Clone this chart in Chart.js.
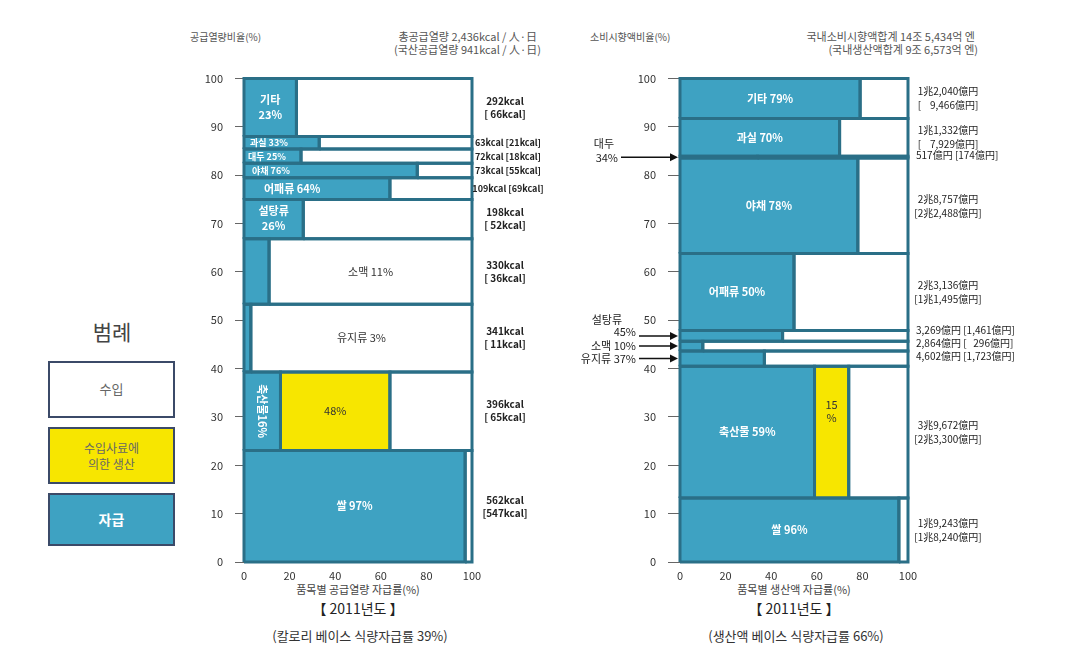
<!DOCTYPE html>
<html><head><meta charset="utf-8">
<script src="https://cdn.jsdelivr.net/npm/chart.js@4.4.0/dist/chart.umd.min.js"></script>
<style>
html,body{margin:0;padding:0;background:#fff;}
body{width:1088px;height:651px;position:relative;overflow:hidden;font-family:"Noto Sans CJK KR","Noto Sans",sans-serif;color:#333;}
.t{position:absolute;white-space:nowrap;line-height:1;}
.c{transform:translateX(-50%);}
canvas{position:absolute;}
.lg{position:absolute;left:48px;width:127px;border:2.5px solid #3b4a68;box-sizing:border-box;display:flex;align-items:center;justify-content:center;text-align:center;line-height:1.3;}
</style></head><body>

<div class="t" style="left:190px;top:32px;font-size:10px;color:#555;">공급열량비율(%)</div>
<div class="t" style="right:551px;top:31px;font-size:11px;color:#555;">총공급열량 2,436kcal / 人·日</div>
<div class="t" style="right:547px;top:44px;font-size:11px;color:#555;">(국산공급열량 941kcal / 人·日)</div>
<div class="t" style="left:590px;top:32px;font-size:10px;color:#555;">소비시향액비율(%)</div>
<div class="t" style="right:113px;top:31px;font-size:11px;color:#555;">국내소비시향액합계 14조 5,434억 엔</div>
<div class="t" style="right:110px;top:44px;font-size:11px;color:#555;">(국내생산액합계 9조 6,573억 엔)</div>

<div class="t c" style="left:358px;top:584px;font-size:11px;color:#444;">품목별 공급열량 자급률(%)</div>
<div class="t c" style="left:358px;top:601px;font-size:14px;color:#222;">【 2011년도 】</div>
<div class="t c" style="left:360px;top:629px;font-size:13px;color:#333;">(칼로리 베이스 식량자급률 39%)</div>
<div class="t c" style="left:794px;top:584px;font-size:11px;color:#444;">품목별 생산액 자급률(%)</div>
<div class="t c" style="left:794px;top:601px;font-size:14px;color:#222;">【 2011년도 】</div>
<div class="t c" style="left:796px;top:629px;font-size:13px;color:#333;">(생산액 베이스 식량자급률 66%)</div>

<div class="t c" style="left:112px;top:321px;font-size:21px;color:#444;">범례</div>
<div class="lg" style="top:361px;height:57px;background:#fff;color:#666;font-size:13px;">수입</div>
<div class="lg" style="top:427px;height:57px;background:#f7e600;color:#666;font-size:12px;">수입사료에<br>의한 생산</div>
<div class="lg" style="top:493px;height:53px;background:#3ea2c2;color:#fff;font-size:14px;font-weight:bold;">자급</div>

<canvas id="cl" width="380" height="540" style="left:180px;top:60px;"></canvas>
<canvas id="cr" width="490" height="540" style="left:550px;top:60px;"></canvas>

<script>
// ---------- data ----------
const categories = ['쌀','축산물','유지류','소맥','설탕류','어패류','야채','대두','과실','기타'];
// calorie base (kcal / person / day)
const kcalSupply   = [562, 396, 341, 330, 198, 109, 73, 72, 63, 292];
const kcalDomestic = [547, 65, 11, 36, 52, 69, 55, 18, 21, 66];
const kcalSelfRate = [97, 16, 3, 11, 26, 64, 76, 25, 33, 23];
const kcalFeedRate = [0, 48, 0, 0, 0, 0, 0, 0, 0, 0];
// production value base (億円)
const valueConsumption = [19243, 39672, 4602, 2864, 3269, 23136, 28757, 517, 11332, 12040];
const valueDomestic    = [18240, 23300, 1723, 296, 1461, 11495, 22488, 174, 7929, 9466];
const valueSelfRate    = [96, 59, 37, 10, 45, 50, 78, 34, 70, 79];
const valueFeedRate    = [0, 15, 0, 0, 0, 0, 0, 0, 0, 0];
// ticks
const xTickValues = [0, 20, 40, 60, 80, 100];
const yTickValues = [0, 10, 20, 30, 40, 50, 60, 70, 80, 90, 100];

// ---------- style ----------
const TEAL = '#3ea2c2', EDGE = '#2a6f87', YELLOW = '#f7e600', WHITE = '#ffffff';
const FONT = '"Noto Sans CJK KR","Noto Sans",sans-serif';
const leftInnerMode = ['c','vert','w','w','c2','l','l','l','l','c2'];
const leftInnerPad  = [0,0,0,0,0,20,8,4,6,0];
const rightInnerMode = ['c','c','','','','c','c','','c','c'];
const rightArrowMode = ['','','1','1','2','','','2','',''];

function buildRows(values, self, feed) {
  const total = values.reduce((a, b) => a + b, 0);
  let cum = 0;
  return values.map((v, i) => {
    const y0 = cum / total * 100; cum += v; const y1 = cum / total * 100;
    return {y0, y1, s: self[i], f: feed[i], i};
  });
}

function rectSets(x0, x1, y0, y1, color) {
  return {
    fill: {type:'line', data:[{x:x0,y:y1},{x:x1,y:y1}], fill:{value:y0}, backgroundColor:color,
           borderWidth:0, borderColor:'rgba(0,0,0,0)', pointRadius:0, clip:false},
    edge: {type:'line', data:[{x:x0,y:y0},{x:x1,y:y0},{x:x1,y:y1},{x:x0,y:y1},{x:x0,y:y0}], fill:false,
           borderColor:EDGE, borderWidth:3, pointRadius:0, clip:false, borderJoinStyle:'miter'}
  };
}

// Chart.js paints dataset 0 last (on top), so outlines go first in the list
function buildDatasets(rows) {
  const fills = [], edges = [];
  rows.forEach(r => {
    const parts = [[0, r.s, TEAL]];
    if (r.f > 0) parts.push([r.s, r.s + r.f, YELLOW]);
    parts.push([r.s + r.f, 100, WHITE]);
    parts.forEach(p => { const d = rectSets(p[0], p[1], r.y0, r.y1, p[2]); fills.push(d.fill); edges.push(d.edge); });
  });
  return edges.concat(fills);
}

function scalesCfg(yWidth, tickLen, tickPad) {
  return {
    x: {type:'linear', min:0, max:100,
        afterBuildTicks(s){ s.ticks = xTickValues.map(v => ({value:v})); },
        ticks:{font:{family:FONT,size:11}, color:'#333', padding:7},
        grid:{display:false, drawTicks:false}, border:{display:false},
        afterFit(s){ s.height = 38; }},
    y: {type:'linear', min:0, max:100,
        afterBuildTicks(s){ s.ticks = yTickValues.map(v => ({value:v})); },
        ticks:{font:{family:FONT,size:11}, color:'#333', padding:tickPad},
        grid:{drawOnChartArea:false, drawTicks:true, tickLength:tickLen, color:'#666'}, border:{display:false},
        afterFit(s){ s.width = yWidth; }}
  };
}

function txt(ctx, s, x, y, font, color, align) {
  ctx.font = font; ctx.fillStyle = color; ctx.textAlign = align || 'center'; ctx.textBaseline = 'middle';
  ctx.fillText(s, x, y);
}

function fmtOku(v) {
  const cho = Math.floor(v / 10000), r = v % 10000;
  if (!cho) return r.toLocaleString('en-US') + '億円';
  return cho + '兆' + r.toLocaleString('en-US') + '億円';
}

// ---------- left chart ----------
const leftRows = buildRows(kcalSupply, kcalSelfRate, kcalFeedRate);
const leftLabels = {
  id:'leftLabels',
  afterDatasetsDraw(chart) {
    const {ctx, scales:{x, y}, chartArea:a} = chart;
    ctx.save();
    leftRows.forEach(r => {
      const i = r.i, yc = (y.getPixelForValue(r.y0) + y.getPixelForValue(r.y1)) / 2;
      const thin = (r.y1 - r.y0) < 5;
      const name = categories[i], rate = kcalSelfRate[i] + '%';
      const tx0 = x.getPixelForValue(0), tx1 = x.getPixelForValue(r.s);
      const wx0 = x.getPixelForValue(r.s + r.f), wx1 = x.getPixelForValue(100);
      const m = leftInnerMode[i];
      const big = 'bold 11px ' + FONT, small = 'bold 9px ' + FONT;
      if (m === 'c') txt(ctx, name + ' ' + rate, (tx0 + tx1) / 2, yc, big, '#fff');
      if (m === 'c2') { txt(ctx, name, (tx0 + tx1) / 2, yc - 8, big, '#fff'); txt(ctx, rate, (tx0 + tx1) / 2, yc + 7, big, '#fff'); }
      if (m === 'l') txt(ctx, name + ' ' + rate, tx0 + leftInnerPad[i], yc, i === 5 ? big : small, '#fff', 'left');
      if (m === 'w') txt(ctx, name + ' ' + rate, (wx0 + wx1) / 2, yc, '11px ' + FONT, '#333');
      if (m === 'vert') {
        ctx.save(); ctx.translate((tx0 + tx1) / 2, yc); ctx.rotate(Math.PI / 2);
        txt(ctx, name + rate, 0, 0, big, '#fff'); ctx.restore();
      }
      if (r.f > 0) {
        txt(ctx, r.f + '%', (x.getPixelForValue(r.s) + x.getPixelForValue(r.s + r.f)) / 2, yc, '11px ' + FONT, '#333');
      }
      // right side kcal labels
      const lx = a.right + 33, f = 'bold 10px ' + FONT;
      const d = kcalDomestic[i];
      const dStr = d < 100 ? '[ ' + d + 'kcal]' : '[' + d + 'kcal]';
      if (thin) txt(ctx, kcalSupply[i] + 'kcal [' + d + 'kcal]', a.right + 36, yc, 'bold 9px ' + FONT, '#222');
      else { txt(ctx, kcalSupply[i] + 'kcal', lx, yc - 6.5, f, '#222'); txt(ctx, dStr, lx, yc + 6.5, f, '#222'); }
    });
    ctx.restore();
  }
};

new Chart(document.getElementById('cl'), {
  type:'line',
  data:{datasets: buildDatasets(leftRows)},
  options:{responsive:false, animation:false, events:[], devicePixelRatio:1,
    layout:{padding:{left:0, right:88, top:11, bottom:0}},
    plugins:{legend:{display:false}, tooltip:{enabled:false}},
    scales: scalesCfg(64, 9, 12)},
  plugins:[leftLabels]
});

// ---------- right chart ----------
const rightRows = buildRows(valueConsumption, valueSelfRate, valueFeedRate);
const rightLabels = {
  id:'rightLabels',
  afterDatasetsDraw(chart) {
    const {ctx, scales:{x, y}, chartArea:a} = chart;
    ctx.save();
    // spread the thin-row value labels so they do not overlap (bottom to top)
    const labelY = {};
    let prev = Infinity;
    rightRows.forEach(r => {
      let yc = (y.getPixelForValue(r.y0) + y.getPixelForValue(r.y1)) / 2;
      if ((r.y1 - r.y0) < 5) { if (prev - yc < 13) yc = prev - 13; prev = yc; } else prev = Infinity;
      labelY[r.i] = yc;
    });
    rightRows.forEach(r => {
      const i = r.i, yc = (y.getPixelForValue(r.y0) + y.getPixelForValue(r.y1)) / 2;
      const thin = (r.y1 - r.y0) < 5;
      const name = categories[i], rate = valueSelfRate[i] + '%';
      const tx0 = x.getPixelForValue(0), tx1 = x.getPixelForValue(r.s);
      const big = 'bold 11px ' + FONT;
      if (rightInnerMode[i] === 'c') txt(ctx, name + ' ' + rate, (tx0 + tx1) / 2, yc, big, '#fff');
      if (r.f > 0) {
        const cx = (x.getPixelForValue(r.s) + x.getPixelForValue(r.s + r.f)) / 2;
        txt(ctx, String(r.f), cx, yc - 27, '11px ' + FONT, '#333');
        txt(ctx, '%', cx, yc - 14, '11px ' + FONT, '#333');
      }
      // arrows on the left
      const am = rightArrowMode[i];
      if (am) {
        const tRight = i === 7 ? a.left - 62 : a.left - 44;
        const f = '11px ' + FONT;
        if (am === '1') txt(ctx, name + ' ' + rate, tRight, yc, f, '#222', 'right');
        else if (i === 7) { txt(ctx, name, tRight - 4, yc - 13, f, '#222', 'right'); txt(ctx, rate, tRight, yc + 1, f, '#222', 'right'); }
        else { txt(ctx, name, tRight - 14, yc - 16, f, '#222', 'right'); txt(ctx, rate, tRight, yc - 4, f, '#222', 'right'); }
        ctx.strokeStyle = '#111'; ctx.fillStyle = '#111'; ctx.lineWidth = 1.5;
        ctx.beginPath(); ctx.moveTo(tRight + 3, yc); ctx.lineTo(a.left - 8, yc); ctx.stroke();
        ctx.beginPath(); ctx.moveTo(a.left - 2, yc); ctx.lineTo(a.left - 10, yc - 4); ctx.lineTo(a.left - 10, yc + 4); ctx.closePath(); ctx.fill();
      }
      // right side value labels
      const f2 = '10px ' + FONT, ly = labelY[i];
      const tot = valueConsumption[i], dom = valueDomestic[i];
      if (thin) {
        let ds = fmtOku(dom);
        if (tot >= 1000 && dom < 1000) ds = '   ' + ds;
        txt(ctx, fmtOku(tot) + ' [' + ds + ']', a.right + 8, ly - 2, f2, '#222', 'left');
      } else {
        let ds = fmtOku(dom);
        if (tot >= 10000 && dom < 10000) ds = '    ' + ds;
        txt(ctx, fmtOku(tot), a.right + 40, ly - 7, f2, '#222');
        txt(ctx, '[' + ds + ']', a.right + 40, ly + 7, f2, '#222');
      }
    });
    ctx.restore();
  }
};

new Chart(document.getElementById('cr'), {
  type:'line',
  data:{datasets: buildDatasets(rightRows)},
  options:{responsive:false, animation:false, events:[], devicePixelRatio:1,
    layout:{padding:{left:76, right:132, top:12, bottom:0}},
    plugins:{legend:{display:false}, tooltip:{enabled:false}},
    scales: scalesCfg(54, 12, 12)},
  plugins:[rightLabels]
});
</script>
</body></html>
